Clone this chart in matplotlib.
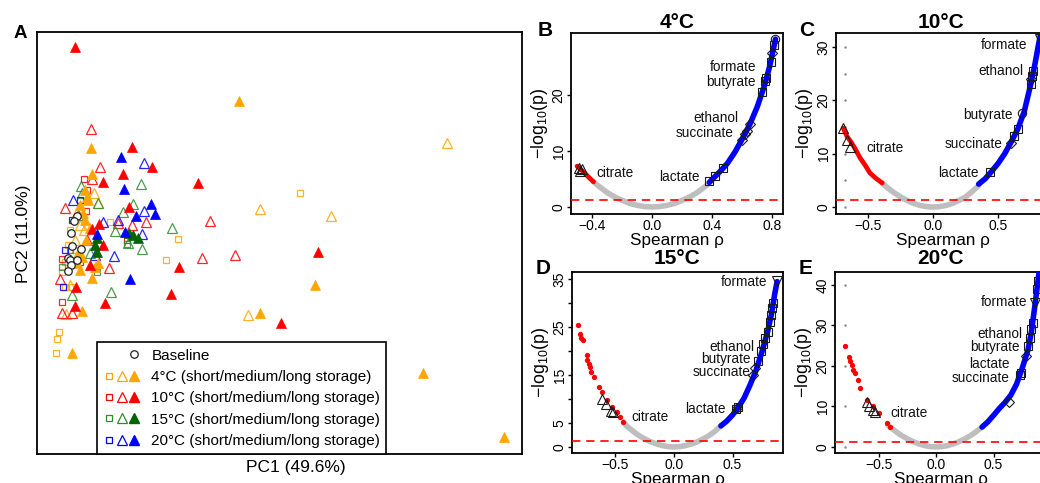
import matplotlib
matplotlib.use('Agg')
import matplotlib.pyplot as plt
from matplotlib.lines import Line2D
from matplotlib.legend_handler import HandlerTuple

plt.rcParams['font.family'] = ['Liberation Sans', 'DejaVu Sans']
plt.rcParams['mathtext.default'] = 'regular'

# ---------------- Panel A data (PC scores, arbitrary units) ----------------
orange_short_x = [24.0, 11.8, 10.6, 5.0, -0.1, -0.3, -0.4, 0.2, 0.5, 1.2, 0.5, 1.0, 1.5, 0.8]
orange_short_y = [6.7, 2.1, 0.0, 3.8, -7.2, -7.9, -9.3, -1.2, -2.7, -2.7, -0.2, 3.0, 1.0, 1.5]
orange_med_x = [38.7, 20.0, 27.1, 18.8, 3.4, 3.8, 0.6, 1.7, 2.0, 1.5, 1.3, 1.0, 2.4]
orange_med_y = [11.7, 5.1, 4.4, -5.5, 6.7, 5.7, -5.4, 4.8, 3.5, 2.0, -0.2, -2.5, 3.0]
orange_long_x = [17.9, 3.1, 3.2, 2.5, 2.7, 2.8, 2.3, 2.5, 3.0, 1.8, 2.2, 1.7, 3.8, 3.5, 3.2,
                 2.2, 1.2, 25.5, 20.0, 36.3, 44.4, 2.0, 2.6, 2.0]
orange_long_y = [15.9, 11.2, 8.6, 7.0, 6.3, 6.0, 4.7, 4.0, 3.2, 0.7, 0.3, -0.3, -0.3, -0.7, -1.8,
                 -5.1, -9.3, -2.5, -5.3, -11.3, -17.7, 5.5, 2.0, -1.0]

red_short_x = [2.4, 2.7, 2.6, 6.7, 0.2, 0.2, 2.0]
red_short_y = [8.1, 7.0, 4.9, 2.0, 0.1, -4.2, -0.2]
red_med_x = [3.1, 4.0, 3.2, 0.5, 15.0, 8.6, 5.8, 7.2, 14.2, 17.5, 4.9, 0.0, 0.2, 1.2, 2.7]
red_med_y = [13.1, 9.3, 8.1, 5.2, 3.9, 3.8, 3.7, 3.5, 0.2, 0.5, -0.8, -1.9, -5.3, -5.3, 2.0]
red_long_x = [1.5, 7.2, 9.2, 6.3, 4.3, 13.8, 6.9, 3.9, 3.2, 4.3, 25.8, 11.9, 11.1, 4.5, 22.1,
              1.5, 1.6, 3.0]
red_long_y = [21.3, 11.3, 9.3, 8.6, 7.8, 7.7, 5.3, 3.6, 3.1, 1.5, 0.8, -0.7, -3.4, -4.3, -6.3,
              -4.6, -2.7, -0.5]

green_short_x = [0.2, 3.7, 6.7, 1.0]
green_short_y = [-0.7, -1.2, 1.6, 1.0]
green_med_x = [2.1, 2.2, 3.8, 7.3, 6.3, 8.1, 5.5, 11.2, 8.2, 5.1, 6.8, 1.2, 3.0, 1.8]
green_med_y = [7.4, 6.7, 5.7, 5.6, 4.8, 7.6, 2.9, 3.2, 1.1, -3.2, 1.7, -3.5, 0.7, 4.5]
green_long_x = [7.3, 7.8, 6.9, 3.7, 3.7, 3.5]
green_long_y = [2.5, 2.2, 2.7, 2.2, 0.8, 1.5]

blue_short_x = [0.5, 0.3, 1.2, 2.0]
blue_short_y = [1.0, -2.7, 4.0, 6.0]
blue_med_x = [8.4, 8.4, 5.4, 8.2, 4.3, 5.8, 1.3, 3.5]
blue_med_y = [9.7, 4.9, 0.4, 2.6, 3.8, 4.0, 6.0, 0.5]
blue_long_x = [6.1, 6.4, 9.1, 9.5, 7.6, 6.5, 3.7, 7.0]
blue_long_y = [10.3, 7.1, 5.6, 4.6, 4.4, 2.8, 2.6, -1.9]

baseline_x = [1.7, 1.4, 1.1, 1.2, 2.1, 0.8, 1.0, 1.7, 1.1, 0.8]
baseline_y = [4.4, 3.9, 2.7, 1.4, 1.1, 0.2, 0.0, 0.0, -0.5, -1.1]

legend_labels = ['Baseline',
                 '4°C (short/medium/long storage)',
                 '10°C (short/medium/long storage)',
                 '15°C (short/medium/long storage)',
                 '20°C (short/medium/long storage)']

# ---------------- Volcano data: Spearman rho vs -log10(p) ----------------
B_red_rho = [-0.50, -0.47, -0.44, -0.41, -0.39]
B_red_v = [7.3, 6.6, 5.8, 5.0, 4.5]
B_grey_rho = [-0.39, -0.35, -0.30, -0.25, -0.20, -0.15, -0.10, -0.05, 0.0, 0.05, 0.10, 0.15,
              0.20, 0.25, 0.30, 0.35, 0.38]
B_grey_v = [4.5, 3.6, 2.6, 1.8, 1.2, 0.65, 0.3, 0.08, 0.0, 0.08, 0.3, 0.65, 1.2, 1.8, 2.6, 3.6, 4.3]
B_blue_rho = [0.38, 0.42, 0.46, 0.50, 0.55, 0.60, 0.65, 0.70, 0.75, 0.78, 0.80, 0.82]
B_blue_v = [4.4, 5.5, 6.6, 7.8, 9.8, 12.2, 14.8, 18.0, 22.0, 25.0, 27.5, 30.0]
B_mark_rho = [-0.49, -0.48, -0.47, 0.38, 0.42, 0.47, 0.60, 0.62, 0.63, 0.65, 0.73, 0.75, 0.76,
              0.79, 0.80, 0.81, 0.82]
B_mark_v = [7.0, 6.5, 6.8, 4.6, 5.5, 7.0, 12.0, 13.0, 13.5, 14.8, 20.5, 22.5, 23.0, 26.0, 27.5,
            29.0, 30.0]
B_mark_sym = ['^', '^', '^', 's', 's', 's', 'D', 'D', 'D', 'D', 's', 's', 's', 's', 'D', 's', 'o']
B_lab_text = ['formate', 'butyrate', 'ethanol', 'succinate', 'lactate']
B_lab_rho = [0.695, 0.69, 0.576, 0.543, 0.318]
B_lab_v = [25.0, 22.3, 15.9, 13.2, 5.4]
B_cit = (-0.37, 6.1)

C_red_rho = [-0.69, -0.66, -0.63, -0.60, -0.56, -0.52, -0.485, -0.44, -0.39]
C_red_v = [14.8, 13.2, 12.2, 11.0, 9.2, 7.8, 6.4, 5.4, 4.5]
C_grey_rho = [-0.39, -0.35, -0.30, -0.25, -0.20, -0.15, -0.10, -0.05, 0.0, 0.05, 0.10, 0.15,
              0.20, 0.25, 0.30, 0.35]
C_grey_v = [4.5, 3.6, 2.7, 1.9, 1.25, 0.7, 0.3, 0.08, 0.0, 0.08, 0.3, 0.7, 1.25, 1.9, 2.9, 4.0]
C_blue_rho = [0.35, 0.40, 0.45, 0.50, 0.55, 0.60, 0.65, 0.70, 0.75, 0.78, 0.81, 0.83]
C_blue_v = [4.3, 5.3, 6.7, 8.2, 10.0, 12.2, 14.6, 17.9, 23.0, 26.5, 30.5, 33.0]
C_mark_rho = [-0.69, -0.66, -0.64, 0.44, 0.60, 0.62, 0.65, 0.685, 0.75, 0.755, 0.76, 0.77, 0.82]
C_mark_v = [14.8, 12.5, 11.2, 6.6, 12.0, 13.3, 14.6, 17.7, 23.0, 24.0, 24.5, 25.5, 31.5]
C_mark_sym = ['^', '^', '^', 's', 'D', 's', 's', 'o', 's', 'D', 's', 's', 'v']
C_lab_text = ['formate', 'ethanol', 'butyrate', 'succinate', 'lactate']
C_lab_rho = [0.723, 0.69, 0.61, 0.53, 0.35]
C_lab_v = [30.4, 25.5, 17.3, 11.8, 6.4]
C_cit = (-0.51, 11.0)

D_red_rho = [-0.818, -0.803, -0.789, -0.775, -0.746, -0.738, -0.726, -0.718, -0.704, -0.684,
             -0.638, -0.618, -0.570, -0.532, -0.490, -0.462, -0.433]
D_red_v = [25.4, 23.5, 22.8, 22.3, 19.2, 18.1, 17.4, 16.7, 15.7, 14.6, 12.6, 11.5, 9.8, 8.4,
           7.4, 6.3, 5.3]
D_grey_rho = [-0.43, -0.40, -0.35, -0.30, -0.25, -0.20, -0.15, -0.10, -0.05, 0.0, 0.05, 0.10,
              0.15, 0.20, 0.25, 0.30, 0.35, 0.40]
D_grey_v = [5.2, 4.3, 3.3, 2.4, 1.7, 1.1, 0.65, 0.3, 0.08, 0.0, 0.08, 0.3, 0.65, 1.1, 1.7, 2.4,
            3.3, 4.4]
D_blue_rho = [0.40, 0.45, 0.50, 0.55, 0.60, 0.65, 0.70, 0.75, 0.80, 0.83, 0.86, 0.88]
D_blue_v = [4.4, 5.4, 6.7, 8.3, 10.3, 13.0, 16.0, 19.8, 24.2, 27.5, 32.0, 34.5]
D_mark_rho = [-0.61, -0.58, -0.54, -0.52, 0.53, 0.54, 0.55, 0.67, 0.69, 0.72, 0.74, 0.76, 0.78,
              0.80, 0.82, 0.83, 0.84, 0.845, 0.88]
D_mark_v = [10.0, 9.0, 7.6, 7.2, 8.0, 8.2, 8.4, 15.0, 16.5, 18.0, 20.0, 21.5, 22.8, 24.0, 26.0,
            27.5, 29.0, 30.0, 34.7]
D_mark_sym = ['^', '^', '^', '^', 's', 'D', 's', 'D', 'D', 's', 's', 's', 's', 's', 's', 's',
              's', 's', 'v']
D_lab_text = ['formate', 'ethanol', 'butyrate', 'succinate', 'lactate']
D_lab_rho = [0.80, 0.69, 0.65, 0.65, 0.44]
D_lab_v = [34.4, 20.8, 18.3, 15.6, 7.9]
D_cit = (-0.36, 6.3)

E_red_rho = [-0.791, -0.762, -0.748, -0.733, -0.719, -0.704, -0.684, -0.661, -0.603, -0.545,
             -0.501, -0.429, -0.40]
E_red_v = [24.9, 22.3, 21.3, 20.2, 19.0, 18.2, 16.5, 14.5, 11.6, 10.0, 8.3, 5.8, 5.0]
E_grey_rho = [-0.42, -0.40, -0.35, -0.30, -0.25, -0.20, -0.15, -0.10, -0.05, 0.0, 0.05, 0.10,
              0.15, 0.20, 0.25, 0.30, 0.35, 0.40]
E_grey_v = [5.4, 4.9, 3.8, 2.8, 2.0, 1.3, 0.75, 0.33, 0.08, 0.0, 0.08, 0.33, 0.75, 1.3, 2.0, 2.8,
            3.8, 4.9]
E_blue_rho = [0.40, 0.45, 0.50, 0.55, 0.60, 0.65, 0.70, 0.75, 0.80, 0.83, 0.86, 0.88, 0.90]
E_blue_v = [4.9, 6.2, 7.8, 9.5, 11.0, 12.8, 15.5, 19.5, 24.0, 28.5, 35.0, 39.5, 44.0]
E_mark_rho = [-0.60, -0.58, -0.55, -0.53, 0.63, 0.73, 0.74, 0.78, 0.80, 0.82, 0.83, 0.84, 0.86,
              0.88, 0.89]
E_mark_v = [11.2, 10.2, 9.2, 8.6, 11.2, 17.8, 18.2, 22.5, 25.0, 27.0, 29.0, 30.5, 35.5, 39.0, 41.0]
E_mark_sym = ['^', '^', '^', '^', 'D', 's', 's', 'D', 's', 's', 's', 's', 'v', 's', 's']
E_lab_text = ['formate', 'ethanol', 'butyrate', 'lactate', 'succinate']
E_lab_rho = [0.79, 0.75, 0.73, 0.64, 0.64]
E_lab_v = [35.8, 28.0, 24.6, 20.6, 17.0]
E_cit = (-0.40, 8.4)

sig_line = 1.3

# ---------------- Figure ----------------
W, H = 1040, 483
fig = plt.figure(figsize=(W / 100, H / 100), dpi=100)


def rect(l, t, r, b):
    return [l / W, 1 - b / H, (r - l) / W, (b - t) / H]


# Panel A
axA = fig.add_axes(rect(37, 32, 522, 454))
ORANGE, RED, GREEN, DGREEN, BLUE = '#FFA500', '#FF0000', '#2E8B2E', '#006400', '#0000FF'
groups = [
    (orange_short_x, orange_short_y, orange_med_x, orange_med_y, orange_long_x, orange_long_y, ORANGE, ORANGE),
    (red_short_x, red_short_y, red_med_x, red_med_y, red_long_x, red_long_y, RED, RED),
    (green_short_x, green_short_y, green_med_x, green_med_y, green_long_x, green_long_y, GREEN, DGREEN),
    (blue_short_x, blue_short_y, blue_med_x, blue_med_y, blue_long_x, blue_long_y, BLUE, BLUE),
]
for sx, sy, mx, my, lx, ly, c, cf in groups:
    axA.plot(sx, sy, 's', ls='none', mfc='none', mec=c, ms=4.8, mew=0.9, alpha=0.85)
    axA.plot(mx, my, '^', ls='none', mfc='none', mec=c, ms=6.5, mew=0.9, alpha=0.85)
for sx, sy, mx, my, lx, ly, c, cf in groups:
    axA.plot(lx, ly, '^', ls='none', color=cf, ms=6.5, mew=0.5)
axA.plot(baseline_x, baseline_y, 'o', ls='none', mfc='white', mec='#222222', ms=5.4, mew=0.9)
axA.set_xlim(-2.3, 46.2)
axA.set_ylim(-19.4, 22.8)
axA.set_xticks([])
axA.set_yticks([])
for s in axA.spines.values():
    s.set_linewidth(1.3)
axA.set_xlabel('PC1 (49.6%)', fontsize=12.5)
axA.xaxis.set_label_coords(0.534, -0.015)
axA.set_ylabel('PC2 (11.0%)', fontsize=12.5)
axA.yaxis.set_label_coords(-0.012, 0.521)

blank = Line2D([], [], ls='None', marker='None')
handles = [(blank, blank, Line2D([], [], ls='None', marker='o', mfc='none', mec='#222222', ms=5.4, mew=0.9))]
for c, cf in [(ORANGE, ORANGE), (RED, RED), (GREEN, DGREEN), (BLUE, BLUE)]:
    handles.append((Line2D([], [], ls='None', marker='s', mfc='none', mec=c, ms=4.8, mew=0.9),
                    Line2D([], [], ls='None', marker='^', mfc='none', mec=c, ms=6.5, mew=0.9),
                    Line2D([], [], ls='None', marker='^', color=cf, ms=6.5)))
leg = axA.legend(handles, legend_labels, handler_map={tuple: HandlerTuple(ndivide=None, pad=0)},
                 loc='lower left', bbox_to_anchor=(0.124, 0.0), borderaxespad=0, frameon=True,
                 fancybox=False, edgecolor='black', fontsize=11, handlelength=2.4,
                 handletextpad=0.75, labelspacing=0.48, borderpad=0.4, framealpha=1)
leg.get_frame().set_linewidth(1.2)


def volcano(r, red, grey, blue, marks, labs, cit, xlim, ylim, xticks, yticks, ytl,
            red_dots=False, tick_dots=None):
    ax = fig.add_axes(r)
    ax.plot(grey[0], grey[1], color='#BEBEBE', lw=4.0, solid_capstyle='round', zorder=2)
    if red_dots:
        ax.plot(red[0], red[1], 'o', ls='none', color='#FF0000', ms=3.8, mew=0, zorder=3)
    else:
        ax.plot(red[0], red[1], color='#FF0000', lw=3.4, solid_capstyle='round', zorder=3)
    ax.plot(blue[0], blue[1], color='#0000FF', lw=4.0, solid_capstyle='round', zorder=3)
    ax.axhline(sig_line, color='#FF0000', lw=1.2, ls=(0, (5, 3.5)), zorder=4)
    for x, y, m in zip(*marks):
        ms = {'^': 7.5, 'v': 7.5, 's': 6.2, 'D': 5.0, 'o': 6.0}[m]
        ax.plot([x], [y], m, ls='none', mfc='none', mec='#1a1a1a', ms=ms, mew=0.8, zorder=5)
    for t, x, y in zip(*labs):
        ax.text(x, y, t, ha='right', va='center', fontsize=9.8, color='#111111', zorder=6)
    ax.text(cit[0], cit[1], 'citrate', ha='left', va='center', fontsize=9.8, color='#111111')
    if tick_dots is not None:
        ax.plot([tick_dots[0]] * len(tick_dots[1]), tick_dots[1], '.', ls='none',
                color='#888888', ms=1.5, zorder=1)
    ax.set_xlim(*xlim)
    ax.set_ylim(*ylim)
    ax.set_xticks(xticks)
    ax.set_xticklabels([f'{v:.1f}'.replace('-', '\u2212') for v in xticks])
    ax.set_yticks(yticks)
    ax.set_yticklabels(ytl, rotation=90, va='center')
    ax.tick_params(direction='out', length=3, width=1, labelsize=10, pad=0.8)
    for s in ax.spines.values():
        s.set_linewidth(1.3)
    ax.set_xlabel('Spearman \u03c1', fontsize=12.3, labelpad=0)
    ax.set_ylabel('\u2212log$_{10}$(p)', fontsize=12.8, labelpad=1.5)
    return ax


volcano(rect(571, 33, 783, 214), (B_red_rho, B_red_v), (B_grey_rho, B_grey_v), (B_blue_rho, B_blue_v),
        (B_mark_rho, B_mark_v, B_mark_sym), (B_lab_text, B_lab_rho, B_lab_v), B_cit,
        (-0.54, 0.87), (-1.25, 31.1), [-0.4, 0.0, 0.4, 0.8], [0, 10, 20], ['0', '10', '20'])
volcano(rect(836, 33, 1049, 214), (C_red_rho, C_red_v), (C_grey_rho, C_grey_v), (C_blue_rho, C_blue_v),
        (C_mark_rho, C_mark_v, C_mark_sym), (C_lab_text, C_lab_rho, C_lab_v), C_cit,
        (-0.745, 0.89), (-1.3, 32.6), [-0.5, 0.0, 0.5], [0, 10, 20, 30], ['0', '10', '20', '30'],
        tick_dots=(-0.677, [0, 5, 10, 15, 20, 25, 30]))
volcano(rect(572, 272, 783, 453), (D_red_rho, D_red_v), (D_grey_rho, D_grey_v), (D_blue_rho, D_blue_v),
        (D_mark_rho, D_mark_v, D_mark_sym), (D_lab_text, D_lab_rho, D_lab_v), D_cit,
        (-0.87, 0.93), (-1.25, 36.5), [-0.5, 0.0, 0.5], [0, 5, 10, 15, 20, 25, 30, 35],
        ['0', '5', '', '15', '', '25', '', '35'], red_dots=True)
volcano(rect(835, 272, 1047, 453), (E_red_rho, E_red_v), (E_grey_rho, E_grey_v), (E_blue_rho, E_blue_v),
        (E_mark_rho, E_mark_v, E_mark_sym), (E_lab_text, E_lab_rho, E_lab_v), E_cit,
        (-0.88, 0.965), (-1.5, 43.2), [-0.5, 0.0, 0.5], [0, 10, 20, 30, 40], ['0', '10', '20', '30', '40'],
        red_dots=True, tick_dots=(-0.79, [0, 10, 20, 30, 40]))

# Titles and panel letters
for txt, x, y in [('4°C', 677, 22), ('10°C', 941, 22), ('15°C', 677, 259), ('20°C', 941, 259)]:
    fig.text(x / W, 1 - y / H, txt, ha='center', va='center', fontsize=15, fontweight='bold')
fig.text(20 / W, 1 - 34 / H, 'A', ha='center', va='center', fontsize=13.5, fontweight='bold')
for txt, x, y in [('B', 545, 30), ('C', 807, 30), ('D', 543, 268), ('E', 806, 268)]:
    fig.text(x / W, 1 - y / H, txt, ha='center', va='center', fontsize=15, fontweight='bold')

fig.savefig('out.png', dpi=100)
